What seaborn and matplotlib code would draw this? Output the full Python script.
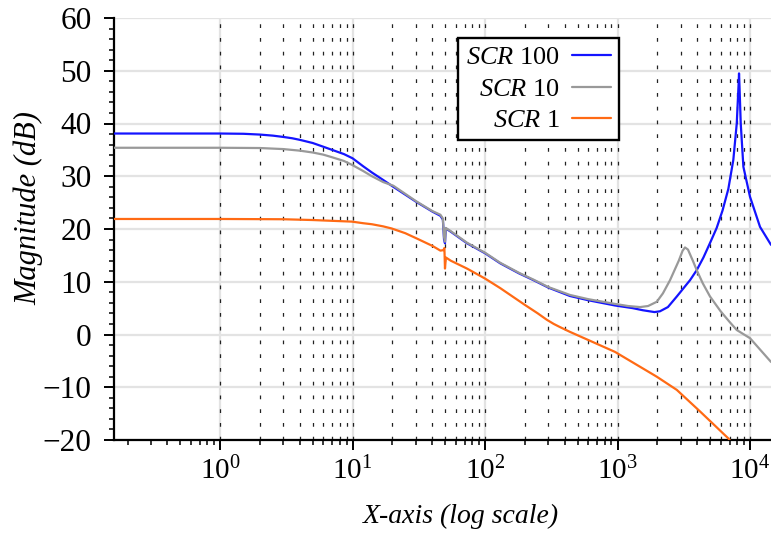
import numpy as np
import pandas as pd
import matplotlib
matplotlib.use("Agg")
import matplotlib.pyplot as plt
import matplotlib.ticker as mticker
import seaborn as sns

# (frequency in Hz, magnitude in dB)
scr100_f = [0.158, 1.0, 1.5, 2.0, 2.5, 3.0, 3.5, 4.0, 5.0, 6.0, 7.0, 8.6, 10, 12, 14, 17, 20, 30,
            40, 46, 48, 49, 49.8, 50.5, 55, 73, 100, 130, 180, 232, 300, 437, 600, 957, 1300, 1550,
            1900, 2090, 2400, 2800, 3200, 3525, 3960, 4450, 5000, 5600, 6200, 6860, 7480, 7940,
            8200, 8260, 8330, 8510, 8910, 10000, 11900, 14400]
scr100_db = [38.1, 38.1, 38.05, 37.9, 37.7, 37.45, 37.2, 36.9, 36.3, 35.6, 35.0, 34.2, 33.4, 31.9,
             30.7, 29.3, 28.1, 25.2, 23.3, 22.5, 21.8, 18.0, 17.3, 20.1, 19.5, 17.3, 15.4, 13.5,
             11.6, 10.3, 8.9, 7.3, 6.5, 5.5, 5.0, 4.6, 4.25, 4.4, 5.2, 7.2, 9.0, 10.3, 12.2, 14.6,
             17.4, 20.2, 23.5, 27.6, 33.1, 40.0, 47.5, 49.5, 47.0, 40.0, 31.8, 26.1, 20.4, 17.0]

scr10_f = [0.158, 1.0, 2.0, 3.0, 4.0, 5.0, 6.0, 7.0, 8.6, 10, 12, 14, 17, 20.3, 30, 40, 46, 48, 49,
           49.8, 50.5, 55, 73, 100, 130, 180, 232, 300, 437, 600, 957, 1200, 1480, 1700, 1977, 2200,
           2490, 2900, 3100, 3230, 3400, 3700, 3960, 4400, 4990, 6000, 7000, 7940, 10000, 14400]
scr10_db = [35.4, 35.4, 35.35, 35.15, 34.85, 34.5, 34.1, 33.6, 32.9, 32.1, 31.0, 30.0, 28.9, 28.2,
            25.3, 23.4, 22.7, 22.0, 18.5, 17.6, 20.2, 19.6, 17.4, 15.5, 13.6, 11.7, 10.4, 9.0, 7.5,
            6.7, 5.8, 5.4, 5.2, 5.4, 6.2, 7.8, 10.3, 14.0, 15.9, 16.5, 16.1, 14.0, 12.2, 9.7, 7.2,
            4.4, 2.4, 0.85, -0.7, -5.2]

scr1_f = [0.158, 1.0, 3.0, 5.0, 7.0, 9.86, 12, 14, 17, 19.7, 25, 30.5, 40, 46, 48.5, 49.3, 49.8,
          50.6, 55, 73, 100, 130, 200, 250, 292, 330, 368, 437, 957, 1977, 2800, 4200, 6860, 7500]
scr1_db = [21.9, 21.9, 21.85, 21.7, 21.55, 21.4, 21.1, 20.9, 20.5, 20.1, 19.2, 18.2, 16.8, 15.9,
           16.0, 16.4, 12.5, 14.6, 14.0, 12.5, 10.6, 8.8, 5.6, 4.0, 2.8, 2.0, 1.4, 0.5, -3.3,
           -8.0, -10.5, -14.6, -19.7, -21.0]

labels = [r"$SCR$ 100", r"$SCR$ 10", r"$SCR$ 1"]
colors = ["#1414ff", "#999999", "#ff6a14"]

sns.set_style("white")
plt.rcParams["font.family"] = ["Liberation Serif", "DejaVu Serif"]
plt.rcParams["mathtext.fontset"] = "custom"
plt.rcParams["mathtext.it"] = "Liberation Serif:italic"
plt.rcParams["mathtext.rm"] = "Liberation Serif"
plt.rcParams["text.color"] = "black"
plt.rcParams["axes.labelcolor"] = "black"
plt.rcParams["xtick.color"] = "black"
plt.rcParams["ytick.color"] = "black"

fig = plt.figure(figsize=(7.71, 5.36), dpi=100)
ax = fig.add_axes([114 / 771, 1 - 440 / 536, (771 - 114) / 771, (440 - 18) / 536])

series = [(scr100_f, scr100_db), (scr10_f, scr10_db), (scr1_f, scr1_db)]
for (f, db), lab, col in zip(series, labels, colors):
    df = pd.DataFrame({"f": f, "db": db})
    sns.lineplot(data=df, x="f", y="db", ax=ax, color=col, lw=1.6, label=lab,
                 estimator=None, sort=False, zorder=3)

ax.set_xscale("log")
ax.set_xlim(0.158, 14400)
ax.set_ylim(-20, 60)
ax.yaxis.set_major_locator(mticker.MultipleLocator(10))
ax.yaxis.set_minor_locator(mticker.MultipleLocator(2))
ax.xaxis.set_major_locator(mticker.LogLocator(base=10, numticks=12))
ax.xaxis.set_minor_locator(mticker.LogLocator(base=10, subs=np.arange(2, 10), numticks=12))
ax.xaxis.set_minor_formatter(mticker.NullFormatter())

# grid: light solid majors, dashed verticals from 1 Hz up
ax.grid(axis="y", which="major", color="#e3e3e3", lw=1.6, zorder=0)
ax.grid(axis="x", which="major", color="#e3e3e3", lw=1.6, zorder=0)
grid_f = [m * 10.0 ** e for e in range(0, 4) for m in range(1, 10)] + [1e4]
for g in grid_f:
    ax.axvline(g, color="#222222", lw=0.9, ls=(0, (3, 8)), zorder=1)
ax.set_axisbelow(True)

for s in ["top", "right"]:
    ax.spines[s].set_visible(False)
for s in ["left", "bottom"]:
    ax.spines[s].set_color("black")
    ax.spines[s].set_linewidth(1.6)

ax.tick_params(axis="both", which="major", direction="out", length=7, width=1.4,
               color="black", left=True, bottom=True)
ax.tick_params(axis="y", which="major", labelsize=22.5, pad=9)
ax.tick_params(axis="x", which="major", labelsize=21, pad=5)
ax.tick_params(axis="both", which="minor", direction="out", length=3.6, width=1.1,
               color="black", left=True, bottom=True)

ax.set_xlabel("X-axis (log scale)", fontsize=20, fontstyle="italic")
ax.set_ylabel("Magnitude (dB)", fontsize=22, fontstyle="italic")
ax.xaxis.set_label_coords((461 - 114) / 657, -0.152)
ax.yaxis.set_label_coords(-0.108, 0.55)

leg = ax.legend(loc="upper left", bbox_to_anchor=((458 - 114) / 657, (440 - 38) / 422),
                markerfirst=False, fontsize=19, frameon=True, fancybox=False, framealpha=1,
                edgecolor="black", handlelength=1.5, labelspacing=0.3, borderpad=0.3,
                handletextpad=0.45, borderaxespad=0)
leg.get_frame().set_linewidth(1.7)
for t in leg.get_texts():
    t.set_ha("right")
leg._legend_box.align = "right"

fig.savefig("out.png", dpi=100)
